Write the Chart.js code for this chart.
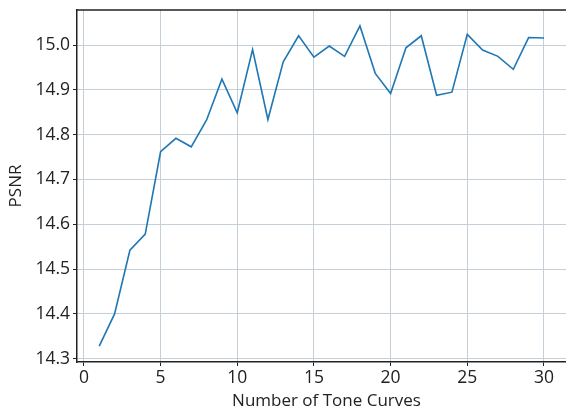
<!DOCTYPE html>
<html>
<head>
<meta charset="utf-8">
<script src="https://cdn.jsdelivr.net/npm/chart.js@4/dist/chart.umd.min.js"></script>
<style>
  html, body { margin: 0; padding: 0; background: #fff; overflow: hidden; }
  #wrap { width: 566px; height: 412px; overflow: hidden; }
</style>
</head>
<body>
<!-- the plot runs past the right edge, so the canvas is a bit wider than the page -->
<div id="wrap"><canvas id="psnrChart" width="576" height="412"></canvas></div>
<script>
const toneCurves = [1, 2, 3, 4, 5, 6, 7, 8, 9, 10, 11, 12, 13, 14, 15,
  16, 17, 18, 19, 20, 21, 22, 23, 24, 25, 26, 27, 28, 29, 30]
const psnr = [14.328, 14.400, 14.542, 14.578, 14.762, 14.792, 14.773, 14.833, 14.924, 14.849,
  14.990, 14.834, 14.963, 15.021, 14.973, 14.998, 14.975, 15.043, 14.937, 14.892,
  14.994, 15.021, 14.888, 14.895, 15.024, 14.989, 14.975, 14.946, 15.017, 15.016]
const xTicks = [0, 5, 10, 15, 20, 25, 30]
const yTicks = [14.3, 14.4, 14.5, 14.6, 14.7, 14.8, 14.9, 15.0]

const tickFont = { family: "'Open Sans', sans-serif", size: 17.5 }
const titleFont = { family: "'Open Sans', sans-serif", size: 17 }
const inkColor = '#222'
const gridColor = '#c4cfd8'

// top spine (the right one is cut off)
const topSpine = {
  id: 'topSpine',
  afterDraw(chart) {
    const { ctx, chartArea } = chart
    ctx.save()
    ctx.strokeStyle = inkColor
    ctx.lineWidth = 1.5
    ctx.beginPath()
    ctx.moveTo(chartArea.left - 0.75, chartArea.top)
    ctx.lineTo(chartArea.right, chartArea.top)
    ctx.stroke()
    ctx.restore()
  }
}

const whiteBg = {
  id: 'whiteBg',
  beforeDraw(chart) {
    const ctx = chart.ctx
    ctx.save()
    ctx.fillStyle = '#fff'
    ctx.fillRect(0, 0, chart.width, chart.height)
    ctx.restore()
  }
}

new Chart(document.getElementById('psnrChart'), {
  type: 'line',
  data: {
    datasets: [{
      label: 'PSNR',
      data: toneCurves.map((n, i) => ({ x: n, y: psnr[i] })),
      borderColor: '#1f77b4',
      borderWidth: 1.6,
      pointRadius: 0,
      tension: 0,
      fill: false
    }]
  },
  options: {
    responsive: false,
    animation: false,
    layout: { padding: { top: 10, right: 0, left: 0, bottom: 0 } },
    plugins: { legend: { display: false }, tooltip: { enabled: false } },
    scales: {
      x: {
        type: 'linear',
        min: -0.45,
        max: 32.09,
        afterBuildTicks: (s) => { s.ticks = xTicks.map(v => ({ value: v })) },
        afterFit: (s) => { s.height = 50; s.paddingLeft = 0; s.paddingRight = 0 },
        ticks: { font: tickFont, color: inkColor, padding: 2, maxRotation: 0 },
        grid: { color: gridColor, lineWidth: 1, tickColor: inkColor, tickLength: 4 },
        border: { color: inkColor, width: 1.5 },
        title: { display: true, text: 'Number of Tone Curves', font: titleFont, color: inkColor, padding: { top: 0, bottom: 1 } }
      },
      y: {
        min: 14.2925,
        max: 15.0785,
        afterBuildTicks: (s) => { s.ticks = yTicks.map(v => ({ value: v })) },
        afterFit: (s) => { s.width = 77; s.paddingTop = 0; s.paddingBottom = 0 },
        ticks: { font: tickFont, color: inkColor, padding: 3, callback: (v) => v.toFixed(1) },
        grid: { color: gridColor, lineWidth: 1, tickColor: inkColor, tickLength: 4 },
        border: { color: inkColor, width: 1.5 },
        title: { display: true, text: 'PSNR', font: titleFont, color: inkColor, padding: { top: 6, bottom: 0 } }
      }
    }
  },
  plugins: [whiteBg, topSpine]
})
</script>
</body>
</html>
